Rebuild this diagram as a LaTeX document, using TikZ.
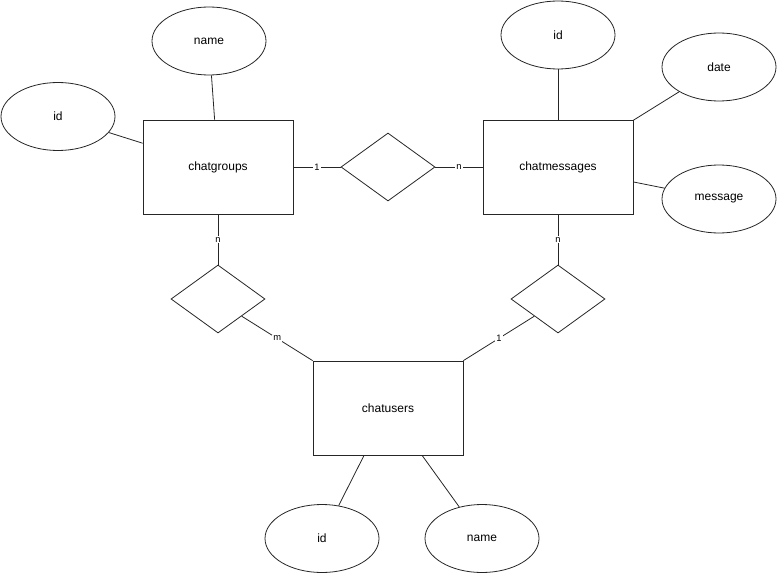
\documentclass[tikz,border=0pt]{standalone}
\usepackage{fontspec}
\setmainfont{Liberation Sans}
\usetikzlibrary{shapes.geometric}

\begin{document}
\begin{tikzpicture}[
    x=0.75pt, y=-0.75pt,
    line width=0.6pt,
    entity/.style={
        draw=black!85, rectangle,
        minimum width=112.5pt,
        minimum height=70.5pt,
        inner sep=0pt,
        font=\fontsize{9}{10}\selectfont
    },
    attr/.style={
        draw=black!85, ellipse,
        minimum width=85.5pt,
        minimum height=51pt,
        inner sep=0pt,
        font=\fontsize{9}{10}\selectfont
    },
    rel/.style={
        draw=black!85, diamond,
        minimum width=70.5pt,
        minimum height=51pt,
        inner sep=0pt
    },
    link/.style={draw=black!85},
    card/.style={fill=white, inner sep=1pt, font=\fontsize{7}{8}\selectfont}
]
\useasboundingbox (0,0) rectangle (777,574);

% Entities.
\node[entity] (groups)   at (218,167) {chatgroups};
\node[entity] (messages) at (558,167) {chatmessages};
\node[entity] (users)    at (388,408) {chatusers};

% Attributes.
\node[attr] (gname) at (209,41)    {name};
\node[attr] (gid)   at (58,116.5)  {id};
\node[attr] (mid)   at (558,35)    {id};
\node[attr] (mdate) at (719,67)    {date};
\node[attr] (mmsg)  at (719,199)   {message};
\node[attr] (uid)   at (322,538.5) {id};
\node[attr] (uname) at (482,538.5) {name};

\foreach \a/\e in {gname/groups, gid/groups, mid/messages, mdate/messages,
                   mmsg/messages, uid/users, uname/users}
    \draw[link] (\a) -- (\e);

% Relationships.
\node[rel] (hold)  at (388,167) {};
\node[rel] (join)  at (218,299) {};
\node[rel] (write) at (558,299) {};

\draw[link] (groups) -- (hold) node[midway, card] {1};
\draw[link] (hold) -- (messages) node[midway, card] {n};
\draw[link] (groups) -- (join) node[midway, card] {n};
\draw[link] (join.south east) -- (users.north west) node[midway, card] {m};
\draw[link] (messages) -- (write) node[midway, card] {n};
\draw[link] (write.south west) -- (users.north east) node[midway, card] {1};

\end{tikzpicture}
\end{document}
